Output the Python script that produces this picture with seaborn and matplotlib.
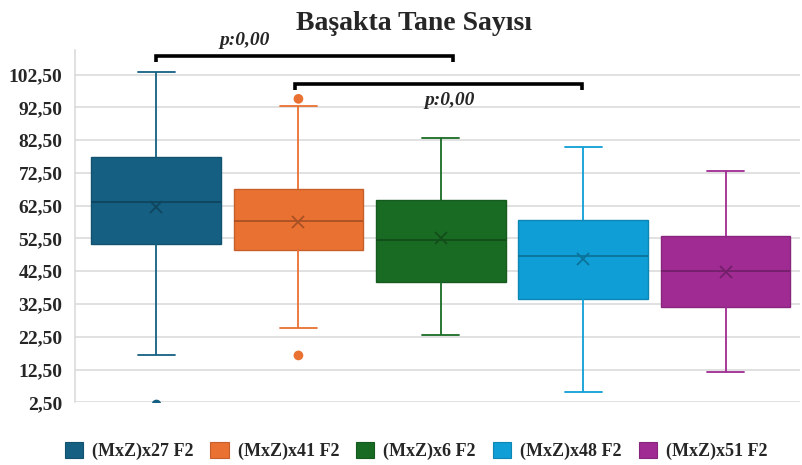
import matplotlib
matplotlib.use("Agg")
import matplotlib.pyplot as plt
import seaborn as sns
import pandas as pd
from matplotlib.patches import Patch
from matplotlib.colors import to_rgb

# Five-number summaries per F2 population
groups = ["(MxZ)x27 F2", "(MxZ)x41 F2", "(MxZ)x6 F2", "(MxZ)x48 F2", "(MxZ)x51 F2"]
whisker_low = [16.9, 25.1, 22.9, 5.7, 11.8]
q1 = [50.8, 49.1, 39.1, 33.9, 31.5]
median = [63.5, 57.8, 52.0, 47.0, 42.7]
q3 = [77.5, 67.5, 64.2, 58.1, 53.2]
whisker_high = [103.3, 93.0, 83.0, 80.3, 73.2]
means = [62.1, 57.4, 52.7, 46.1, 42.3]

# Points outside the whiskers
outlier_group = ["(MxZ)x27 F2", "(MxZ)x41 F2", "(MxZ)x41 F2"]
outlier_value = [2.0, 95.1, 16.8]

colors = ["#156082", "#E97132", "#196B24", "#0F9ED5", "#A02B93"]
ytick_values = [2.5, 12.5, 22.5, 32.5, 42.5, 52.5, 62.5, 72.5, 82.5, 92.5, 102.5]
ytick_labels = ["2,50", "12,50", "22,50", "32,50", "42,50", "52,50",
                "62,50", "72,50", "82,50", "92,50", "102,50"]
p_label = "p:0,00"
title = "Başakta Tane Sayısı"

sns.set_style("white")
plt.rcParams["font.family"] = ["Liberation Serif", "DejaVu Serif"]


def shade(c, f=0.72):
    r, g, b = to_rgb(c)
    return (r * f, g * f, b * f)


summary = pd.DataFrame({"group": groups, "lo": whisker_low, "q1": q1,
                        "med": median, "q3": q3, "hi": whisker_high})
long_df = summary.melt(id_vars="group", value_name="value")
mean_df = pd.DataFrame({"group": groups, "mean": means})
out_df = pd.DataFrame({"group": outlier_group, "value": outlier_value})
palette = dict(zip(groups, colors))
dark_palette = {g: shade(c) for g, c in palette.items()}

fig = plt.figure(figsize=(8.03, 4.65), dpi=100)
ax = fig.add_axes([75 / 803, 1 - 402.3 / 465, 725 / 803, (402.3 - 50) / 465])

for g, c in palette.items():
    sns.boxplot(data=long_df[long_df["group"] == g], x="group", y="value",
                order=groups, color=c, linecolor=c, width=0.91, whis=1.5,
                showfliers=False, linewidth=1.3, saturation=1,
                medianprops={"color": shade(c), "linewidth": 1.3},
                boxprops={"edgecolor": shade(c, 0.85), "linewidth": 1.0},
                ax=ax)

# Cap length of whiskers
for line in ax.lines:
    xd = line.get_xdata()
    yd = line.get_ydata()
    if len(xd) == 2 and yd[0] == yd[1] and abs(xd[1] - xd[0]) < 0.6:
        cx = (xd[0] + xd[1]) / 2
        line.set_xdata([cx - 0.13, cx + 0.13])

sns.pointplot(data=mean_df, x="group", y="mean", hue="group", order=groups,
              palette=dark_palette, markers="x", linestyle="none",
              errorbar=None, markersize=8.5, markeredgewidth=1.3,
              legend=False, ax=ax)

sns.stripplot(data=out_df, x="group", y="value", hue="group", order=groups,
              palette=palette, jitter=False, size=7, linewidth=0,
              legend=False, ax=ax)

ax.set_ylim(2.5, 110)
ax.set_xlim(-0.569, 4.522)
ax.set_yticks(ytick_values)
ax.set_yticklabels(ytick_labels, fontsize=14, fontweight="bold")
ax.set_xticks([])
ax.set_xlabel("")
ax.set_ylabel("")
ax.tick_params(axis="y", length=0, pad=9)
ax.yaxis.grid(True, color="#d9d9d9", linewidth=1.1)
ax.set_axisbelow(True)
for side in ["top", "right", "bottom"]:
    ax.spines[side].set_visible(False)
ax.spines["left"].set_color("#d9d9d9")
ax.spines["left"].set_linewidth(1.1)

# Significance brackets
ax.plot([0, 0, 2.086, 2.086], [106.3, 108.2, 108.2, 106.3], color="black",
        lw=2.6, clip_on=False, solid_joinstyle="miter", solid_capstyle="butt")
ax.plot([0.978, 0.978, 2.99, 2.99], [97.7, 99.75, 99.75, 97.7], color="black",
        lw=2.6, clip_on=False, solid_joinstyle="miter", solid_capstyle="butt")
ax.text(0.625, 113.0, p_label, ha="center", va="center", fontsize=14,
        fontweight="bold", style="italic", clip_on=False)
ax.text(2.06, 94.7, p_label, ha="center", va="center", fontsize=14,
        fontweight="bold", style="italic")

fig.text(414 / 803, 1 - 24 / 465, title, ha="center", va="center",
         fontsize=20, fontweight="bold")

handles = [Patch(facecolor=palette[g], edgecolor=shade(palette[g], 0.85),
                 linewidth=0.8, label=g) for g in groups]
fig.legend(handles=handles, loc="center", bbox_to_anchor=(416 / 803, 1 - 451 / 465),
           ncol=5, frameon=False, prop={"weight": "bold", "size": 13},
           handlelength=1.0, handleheight=1.0, handletextpad=0.5,
           columnspacing=0.95)

fig.savefig("out.png", dpi=100)
